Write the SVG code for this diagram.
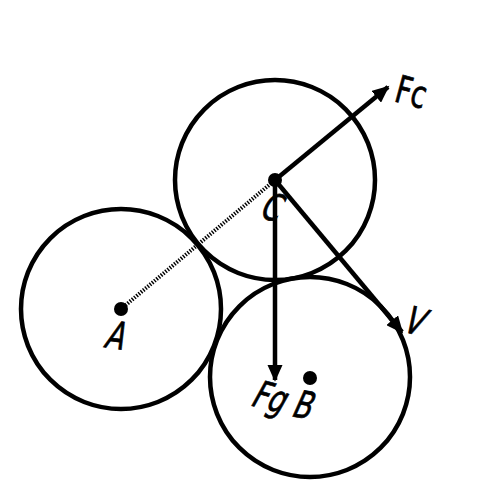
<svg xmlns="http://www.w3.org/2000/svg" width="500" height="500" viewBox="0 0 500 500">
<defs>
<marker id="ah" markerWidth="4" markerHeight="3.4" refX="3.4" refY="1.7" orient="auto" markerUnits="strokeWidth">
<path d="M0,0 L3.8,1.7 L0,3.4 Z" fill="#000"/>
</marker>
<style>
.c{fill:none;stroke:#000;stroke-width:4.5}
.a{stroke:#000;stroke-width:4.5;fill:none;marker-end:url(#ah)}
.d{fill:#000}
.t{font-family:"DejaVu Sans","Liberation Sans",sans-serif;font-stretch:condensed;font-size:38px;fill:#000;stroke:#000;stroke-width:0.7}
</style>
</defs>
<rect width="500" height="500" fill="#fff"/>
<g id="circleA"><circle class="c" cx="121" cy="309" r="100"/></g>
<g id="circleC"><circle class="c" cx="275" cy="180" r="100"/></g>
<g id="circleB"><circle class="c" cx="310" cy="377" r="100"/></g>
<g id="connectors">
<line x1="121" y1="309" x2="275" y2="180" stroke="#000" stroke-width="4" stroke-dasharray="1.4 1.5"/>
<line class="a" x1="275" y1="180" x2="388" y2="87"/>
<line class="a" x1="275" y1="180" x2="275" y2="380"/>
<line class="a" x1="275" y1="180" x2="402" y2="332"/>
</g>
<g id="pointA"><circle class="d" cx="121" cy="309" r="7"/><text class="t" transform="translate(103,347) rotate(8) skewX(-14) scale(0.8,1)">A</text></g>
<g id="pointC"><circle class="d" cx="275" cy="180" r="7"/><text class="t" transform="translate(258,217) rotate(15) skewX(-12) scale(0.8,1)">C</text></g>
<g id="pointB"><circle class="d" cx="310" cy="378" r="7"/><text class="t" transform="translate(290,416) rotate(10) skewX(-14) scale(0.8,1)">B</text></g>
<g id="labelFc"><text class="t" transform="translate(393,101) rotate(15) scale(0.8,1)">Fc</text></g>
<g id="labelFg"><text class="t" transform="translate(249,405) rotate(15) skewX(-14) scale(0.8,1)">Fg</text></g>
<g id="labelV"><text class="t" transform="translate(401,331) rotate(15) skewX(-12) scale(0.8,1)">V</text></g>
</svg>
